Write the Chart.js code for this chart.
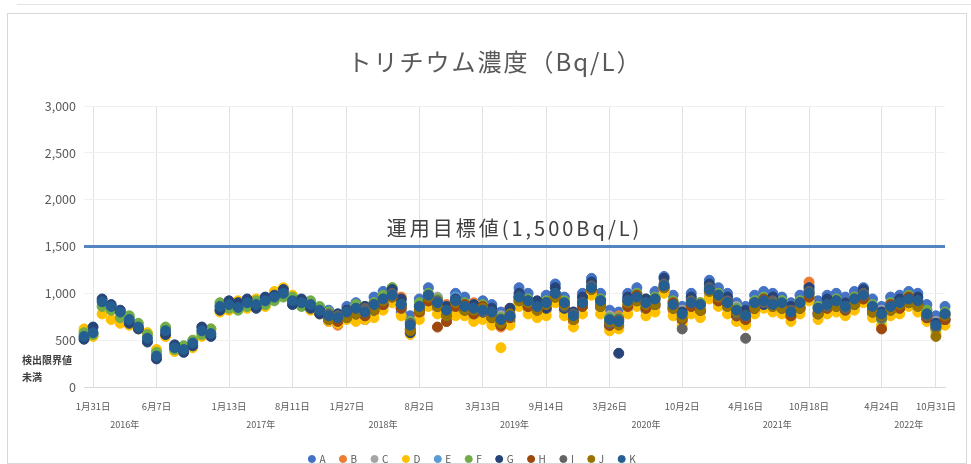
<!DOCTYPE html>
<html>
<head>
<meta charset="utf-8">
<script src="https://cdn.jsdelivr.net/npm/chart.js@4/dist/chart.umd.min.js"></script>
<style>
  html, body { margin: 0; padding: 0; background: #ffffff; }
  #wrap { position: relative; width: 971px; height: 464px; }
</style>
</head>
<body>
<div id="wrap"><canvas id="c" width="971" height="464"></canvas></div>
<script>
// ---- sampling dates (category axis); only some dates carry a visible label ----
const sampleCount = 96;
const dateLabels = {
  1: '1月31日', 8: '6月7日', 16: '1月13日', 23: '8月11日', 29: '1月27日', 37: '8月2日',
  44: '3月13日', 51: '9月14日', 58: '3月26日', 66: '10月2日', 73: '4月16日', 80: '10月18日',
  88: '4月24日', 94: '10月31日'
};
const yearLabels = ['2016年', '2017年', '2018年', '2019年', '2020年', '2021年', '2022年'];
const yTicks = [0, 500, 1000, 1500, 2000, 2500, 3000];
const targetValue = 1500;
const chartTitle = 'トリチウム濃度（Bq/L）';
const targetCaption = '運用目標値(1,500Bq/L)';

const seriesNames = ['A', 'B', 'C', 'D', 'E', 'F', 'G', 'H', 'I', 'J', 'K'];

const none27 = [null,null,null,null,null,null,null,null,null,null,null,null,null,null,null,null,null,null,null,null,null,null,null,null,null,null,null];

// ---- tritium concentration per sampling point (Bq/L) ----
const seriesA = none27.concat([
  820,700,860,900,720,960,1020,920,800,760,
  940,1060,840,700,1000,960,740,920,880,800,
  700,1060,1000,800,980,1100,960,720,1000,1160,
  1000,820,800,1000,1060,820,1020,1180,980,860,
  1000,800,1140,1060,1000,900,860,980,1020,1000,
  960,900,980,1080,920,980,1000,960,1020,1060,
  940,860,960,980,1020,1000,880,760,860]);

const seriesB = none27.concat([
  700,660,740,760,860,800,860,940,960,620,
  780,900,840,880,820,780,900,760,720,640,
  840,880,840,900,820,940,820,700,860,1000,
  860,640,760,860,900,900,860,1040,820,700,
  860,900,980,920,860,760,700,840,880,860,
  840,740,840,1120,760,840,860,800,880,940,
  800,720,820,840,900,860,740,620,720]);

const seriesC = none27.concat([
  700,780,740,860,840,820,960,1060,840,580,
  800,900,960,860,840,800,880,780,720,760,
  840,900,840,900,840,960,820,800,860,1040,
  840,760,640,840,920,940,860,1060,840,820,
  840,880,1000,900,840,860,700,820,860,840,
  920,780,820,960,780,860,840,900,860,940,
  780,820,800,920,880,840,720,700,700]);

const seriesD = [
  620,540,780,720,680,660,620,580,400,540,
  380,420,420,540,620,800,820,920,840,940,
  860,1020,1060,980,880,820,780,700,680,720,
  700,720,740,820,900,760,560,720,860,780,
  700,760,760,700,720,660,420,660,860,780,
  740,760,900,760,640,780,980,780,600,620,
  780,860,760,800,1000,760,660,780,740,940,
  860,780,700,660,780,840,800,780,700,780,
  920,720,780,800,760,820,900,740,660,760,
  780,860,800,700,580,660];

const seriesE = none27.concat([
  800,780,760,880,780,900,900,1040,920,700,
  880,940,880,820,960,840,860,820,820,700,
  820,940,880,880,920,1000,900,780,920,1060,
  920,740,700,940,1000,860,940,1080,900,780,
  940,860,1080,1000,940,840,780,920,960,940,
  900,840,920,1040,860,900,940,880,960,1000,
  860,800,880,920,960,940,820,680,780]);

const seriesF = [
  580,560,860,820,740,760,680,560,370,640,
  400,440,500,560,620,900,840,820,860,920,
  880,920,960,960,860,920,860,800,700,740,
  880,760,900,980,1060,840,700,900,1000,940,
  760,860,900,780,880,740,740,740,920,940,
  820,920,960,920,720,860,1040,940,740,740,
  860,1000,840,960,1060,920,720,860,900,1020,
  1000,860,840,720,920,960,860,920,760,920,
  960,860,840,940,820,960,940,880,720,900,
  840,980,860,820,620,800];

const seriesG = [
  510,640,940,880,820,680,620,480,300,560,
  450,370,440,640,540,820,920,900,940,840,
  960,980,1040,880,940,840,780,720,780,820,
  780,860,820,880,1040,940,580,820,920,860,
  860,940,820,880,800,840,660,840,1000,860,
  920,840,1060,840,800,960,1120,860,660,360,
  960,920,940,880,1160,840,800,960,820,1100,
  920,960,760,820,840,880,960,840,860,840,
  1060,780,940,860,900,880,1040,800,800,820,
  940,900,960,740,680,720];

const seriesH = none27.concat([
  740,700,800,780,760,880,880,960,840,620,
  800,920,640,700,860,880,780,860,740,660,
  740,960,860,820,900,960,880,720,860,1040,
  880,660,720,860,980,840,940,1060,900,720,
  860,820,1040,920,880,760,720,840,940,860,
  880,760,900,960,800,840,920,820,940,940,
  820,620,880,840,960,880,740,640,720]);

const seriesI = none27.concat([
  780,760,760,840,840,840,940,1000,880,680,
  860,980,920,760,920,840,840,800,800,720,
  760,960,920,840,900,1000,860,780,900,1080,
  920,680,720,920,940,900,900,1100,860,620,
  920,880,1060,980,920,780,520,900,900,920,
  860,820,860,1020,840,860,920,840,900,1000,
  860,740,840,900,920,920,760,640,780]);

const seriesJ = none27.concat([
  720,740,740,780,800,820,920,960,880,600,
  820,960,860,760,900,820,820,840,740,680,
  780,920,900,820,880,960,880,720,900,1040,
  860,700,660,900,920,880,880,1060,840,740,
  900,820,1020,960,860,800,760,840,920,860,
  840,800,840,1000,780,880,860,860,880,980,
  800,760,820,880,900,860,780,540,760]);

const seriesK = [
  540,580,910,860,800,720,640,520,330,600,
  420,400,470,600,570,860,880,850,900,880,
  920,960,1000,920,900,880,820,760,740,800,
  840,800,880,940,980,880,660,860,980,900,
  820,920,860,840,820,800,720,760,960,920,
  860,900,1000,900,760,900,1060,920,720,700,
  920,960,900,940,1080,880,780,900,880,1040,
  980,900,820,760,900,920,880,900,800,900,
  1000,840,880,920,860,940,980,860,780,860,
  900,940,920,780,660,780];

const seriesValues = [seriesA, seriesB, seriesC, seriesD, seriesE, seriesF, seriesG, seriesH, seriesI, seriesJ, seriesK];
const seriesColors = ['#4472C4', '#ED7D31', '#A5A5A5', '#FFC000', '#5B9BD5', '#70AD47', '#264478', '#9E480E', '#636363', '#997300', '#255E91'];

// ---- build chart data ----
const labels = [];
for (let i = 0; i < sampleCount; i++) labels.push(dateLabels[i] || '');
const labelIdx = Object.keys(dateLabels).map(Number).sort((a, b) => a - b);

const FONT = "'Noto Sans CJK JP', 'Noto Sans', sans-serif";
const TEXT = '#595959';

const datasets = seriesValues.map((vals, i) => ({
  label: seriesNames[i],
  data: vals,
  showLine: false,
  pointStyle: 'circle',
  pointRadius: 5,
  pointBorderWidth: 1,
  pointBackgroundColor: seriesColors[i],
  pointBorderColor: seriesColors[i],
  backgroundColor: seriesColors[i],
  borderColor: seriesColors[i],
  order: seriesValues.length - i + 1
}));
datasets.push({
  label: 'target',
  data: labels.map(() => targetValue),
  borderColor: '#5585C0',
  borderWidth: 3,
  pointRadius: 0,
  order: 50
});

// frame, title, target caption, year captions and the left note
const decorations = {
  id: 'decorations',
  beforeDraw(chart) {
    const c = chart.ctx;
    c.save();
    c.fillStyle = '#ffffff';
    c.fillRect(0, 0, chart.width, chart.height);
    c.strokeStyle = '#E3E3E3';
    c.lineWidth = 1;
    c.beginPath();
    c.moveTo(17, 4.5); c.lineTo(chart.width, 4.5);
    c.stroke();
    c.strokeStyle = '#D9D9D9';
    c.strokeRect(7.5, 13.5, chart.width - 12, chart.height - 14);
    c.restore();
  },
  afterDraw(chart) {
    const c = chart.ctx;
    const x = chart.scales.x, y = chart.scales.y;
    const area = chart.chartArea;
    c.save();
    c.textAlign = 'center';
    c.textBaseline = 'middle';
    // chart title
    c.fillStyle = TEXT;
    c.font = '24px ' + FONT;
    c.letterSpacing = '2px';
    c.fillText(chartTitle, 495, 62);
    // caption above the target line
    c.fillStyle = '#404040';
    c.font = '20px ' + FONT;
    c.letterSpacing = '3px';
    c.fillText(targetCaption, (area.left + area.right) / 2, y.getPixelForValue(targetValue) - 18);
    c.letterSpacing = '0px';
    // year captions under each pair of dated ticks
    c.fillStyle = TEXT;
    c.font = '9px ' + FONT;
    yearLabels.forEach((yr, k) => {
      const a = x.getPixelForValue(labelIdx[2 * k]);
      const b = x.getPixelForValue(labelIdx[2 * k + 1]);
      c.fillText(yr, (a + b) / 2, 425);
    });
    // note beside the bottom of the value axis
    c.fillStyle = '#404040';
    c.font = 'bold 10px ' + FONT;
    c.textAlign = 'left';
    const y0 = y.getPixelForValue(0);
    c.fillText('検出限界値', 22, y0 - 27);
    c.fillText('未満', 22, y0 - 10);
    c.restore();
  }
};

new Chart(document.getElementById('c'), {
  type: 'line',
  data: { labels, datasets },
  options: {
    responsive: false,
    animation: false,
    devicePixelRatio: 1,
    layout: { padding: { left: 0, right: 26, top: 106, bottom: -10 } },
    plugins: {
      title: { display: false },
      legend: {
        position: 'bottom',
        labels: {
          usePointStyle: true,
          boxWidth: 5,
          boxHeight: 5,
          padding: 15,
          color: TEXT,
          font: { family: FONT, size: 10 },
          filter: item => item.datasetIndex < seriesNames.length,
          sort: (a, b) => a.datasetIndex - b.datasetIndex
        }
      },
      tooltip: { enabled: false }
    },
    scales: {
      x: {
        type: 'category',
        offset: false,
        afterFit(scale) { scale.height = 52; },
        ticks: {
          autoSkip: false,
          maxRotation: 0,
          minRotation: 0,
          padding: 14,
          color: TEXT,
          font: { family: FONT, size: 9.5 }
        },
        grid: {
          drawTicks: false,
          color: ctx => (ctx.tick && ctx.tick.label) ? '#E2E2E2' : 'rgba(0,0,0,0)'
        },
        border: { color: '#D9D9D9' }
      },
      y: {
        min: 0,
        max: 3000,
        afterFit(scale) { scale.width = 84; },
        afterBuildTicks(scale) { scale.ticks = yTicks.map(v => ({ value: v })); },
        ticks: {
          padding: 8,
          color: TEXT,
          font: { family: FONT, size: 12.5 },
          callback: v => v.toLocaleString('en-US')
        },
        grid: { drawTicks: false, color: '#F0F0F0' },
        border: { display: false }
      }
    }
  },
  plugins: [decorations]
});
</script>
</body>
</html>
